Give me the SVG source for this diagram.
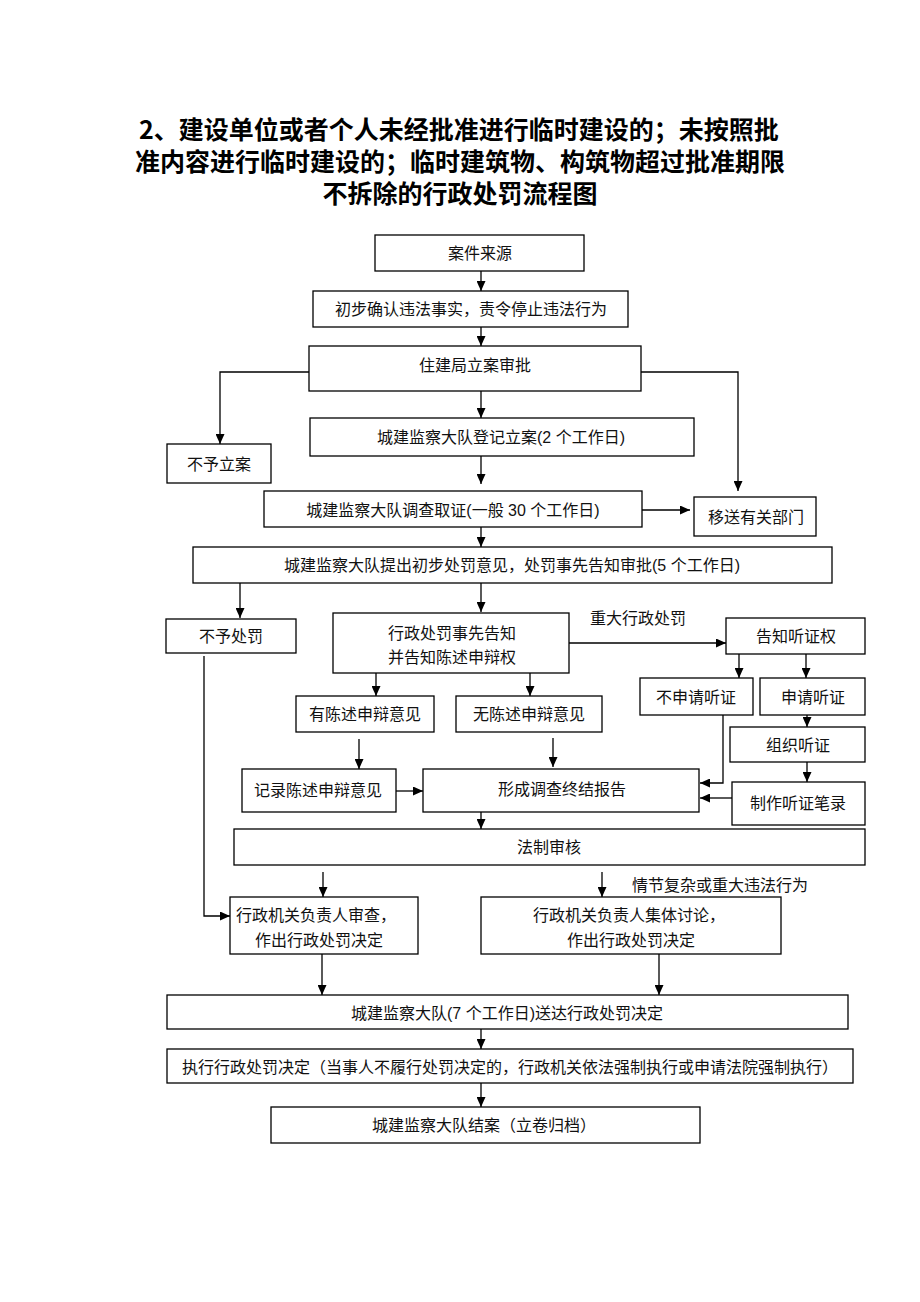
<svg xmlns="http://www.w3.org/2000/svg" width="920" height="1302" viewBox="0 0 920 1302">
<defs>
<marker id="ah" markerUnits="userSpaceOnUse" markerWidth="10" markerHeight="9" refX="10" refY="4.5" orient="auto">
<path d="M0,0 L10,4.5 L0,9 z" fill="#000"/>
</marker>
<style>
.b{fill:#fff;stroke:#000;stroke-width:1.3}
.t{font-family:"Liberation Sans","Noto Sans CJK SC",sans-serif;font-size:16px;fill:#111;text-anchor:middle}
.h{font-family:"Noto Sans CJK SC",sans-serif;font-size:25px;font-weight:bold;fill:#000;text-anchor:middle}
.c{fill:none;stroke:#000;stroke-width:1.3;marker-end:url(#ah)}
.l{fill:none;stroke:#000;stroke-width:1.3}
</style>
</defs>
<rect width="920" height="1302" fill="#fff"/>
<g id="title">
<text class="h" x="459" y="139">2、建设单位或者个人未经批准进行临时建设的；未按照批</text>
<text class="h" x="460" y="171">准内容进行临时建设的；临时建筑物、构筑物超过批准期限</text>
<text class="h" x="460" y="203">不拆除的行政处罚流程图</text>
</g>
<g id="connectors">
<line class="c" x1="481" y1="271" x2="481" y2="291"/>
<line class="c" x1="481" y1="327" x2="481" y2="346"/>
<polyline class="c" points="309,372 220,372 220,444"/>
<polyline class="c" points="641,372 738,372 738,491"/>
<line class="c" x1="481" y1="391" x2="481" y2="418"/>
<line class="c" x1="481" y1="456" x2="481" y2="484"/>
<line class="c" x1="642" y1="510" x2="690" y2="510"/>
<line class="c" x1="481" y1="527" x2="481" y2="547"/>
<line class="c" x1="240" y1="583" x2="240" y2="618"/>
<line class="c" x1="481" y1="583" x2="481" y2="612"/>
<line class="c" x1="569" y1="643" x2="726" y2="643"/>
<line class="c" x1="739" y1="654" x2="739" y2="678"/>
<line class="c" x1="806" y1="654" x2="806" y2="678"/>
<line class="c" x1="376" y1="673" x2="376" y2="696"/>
<line class="c" x1="530" y1="673" x2="530" y2="696"/>
<line class="c" x1="807" y1="715" x2="807" y2="727"/>
<line class="c" x1="807" y1="762" x2="807" y2="782"/>
<polyline class="c" points="723,715 723,783 700,783"/>
<line class="c" x1="732" y1="798" x2="700" y2="798"/>
<line class="c" x1="359" y1="739" x2="359" y2="769"/>
<line class="c" x1="553" y1="738" x2="553" y2="767"/>
<line class="c" x1="396" y1="791" x2="423" y2="791"/>
<line class="c" x1="481" y1="812" x2="481" y2="829"/>
<polyline class="c" points="204,656 204,916 230,916"/>
<line class="c" x1="323" y1="872" x2="323" y2="897"/>
<line class="c" x1="602" y1="872" x2="602" y2="897"/>
<line class="c" x1="322" y1="954" x2="322" y2="995"/>
<line class="c" x1="659" y1="954" x2="659" y2="995"/>
<line class="c" x1="481" y1="1029" x2="481" y2="1049"/>
<line class="c" x1="481" y1="1083" x2="481" y2="1107"/>
<text class="t" x="638" y="624">重大行政处罚</text>
<text class="t" x="720" y="891">情节复杂或重大违法行为</text>
</g>
<g id="n1"><rect class="b" x="375" y="235" width="209" height="36"/><text class="t" x="480" y="259">案件来源</text></g>
<g id="n2"><rect class="b" x="313" y="291" width="315" height="36"/><text class="t" x="471" y="315">初步确认违法事实，责令停止违法行为</text></g>
<g id="n3"><rect class="b" x="309" y="346" width="332" height="45"/><text class="t" x="475" y="371">住建局立案审批</text></g>
<g id="n4"><rect class="b" x="310" y="418" width="384" height="38"/><text class="t" x="501" y="443">城建监察大队登记立案(2 个工作日)</text></g>
<g id="n5"><rect class="b" x="167" y="444" width="104" height="39"/><text class="t" x="219" y="470">不予立案</text></g>
<g id="n6"><rect class="b" x="264" y="491" width="378" height="36"/><text class="t" x="453" y="516">城建监察大队调查取证(一般 30 个工作日)</text></g>
<g id="n7"><rect class="b" x="694" y="497" width="122" height="39"/><text class="t" x="756" y="523">移送有关部门</text></g>
<g id="n8"><rect class="b" x="193" y="547" width="639" height="36"/><text class="t" x="512" y="571">城建监察大队提出初步处罚意见，处罚事先告知审批(5 个工作日)</text></g>
<g id="n9"><rect class="b" x="166" y="619" width="130" height="34"/><text class="t" x="231" y="642">不予处罚</text></g>
<g id="n10"><rect class="b" x="333" y="613" width="236" height="60"/><text class="t" x="452" y="639">行政处罚事先告知</text><text class="t" x="452" y="663">并告知陈述申辩权</text></g>
<g id="n11"><rect class="b" x="726" y="618" width="139" height="36"/><text class="t" x="796" y="642">告知听证权</text></g>
<g id="n12"><rect class="b" x="640" y="678" width="113" height="37"/><text class="t" x="696" y="703">不申请听证</text></g>
<g id="n13"><rect class="b" x="760" y="678" width="105" height="37"/><text class="t" x="813" y="703">申请听证</text></g>
<g id="n14"><rect class="b" x="296" y="696" width="138" height="36"/><text class="t" x="365" y="720">有陈述申辩意见</text></g>
<g id="n15"><rect class="b" x="456" y="696" width="146" height="36"/><text class="t" x="529" y="720">无陈述申辩意见</text></g>
<g id="n16"><rect class="b" x="730" y="727" width="135" height="35"/><text class="t" x="798" y="751">组织听证</text></g>
<g id="n17"><rect class="b" x="242" y="769" width="154" height="43"/><text class="t" x="318" y="796">记录陈述申辩意见</text></g>
<g id="n18"><rect class="b" x="423" y="769" width="276" height="43"/><text class="t" x="562" y="795">形成调查终结报告</text></g>
<g id="n19"><rect class="b" x="732" y="782" width="133" height="43"/><text class="t" x="798" y="809">制作听证笔录</text></g>
<g id="n20"><rect class="b" x="234" y="829" width="631" height="36"/><text class="t" x="549" y="853">法制审核</text></g>
<g id="n21"><rect class="b" x="230" y="897" width="188" height="57"/><text class="t" x="316" y="921">行政机关负责人审查，</text><text class="t" x="319" y="946">作出行政处罚决定</text></g>
<g id="n22"><rect class="b" x="481" y="897" width="300" height="57"/><text class="t" x="629" y="921">行政机关负责人集体讨论，</text><text class="t" x="631" y="946">作出行政处罚决定</text></g>
<g id="n23"><rect class="b" x="167" y="995" width="681" height="34"/><text class="t" x="507" y="1019">城建监察大队(7 个工作日)送达行政处罚决定</text></g>
<g id="n24"><rect class="b" x="167" y="1049" width="686" height="34"/><text class="t" x="510" y="1073">执行行政处罚决定（当事人不履行处罚决定的，行政机关依法强制执行或申请法院强制执行）</text></g>
<g id="n25"><rect class="b" x="271" y="1107" width="429" height="36"/><text class="t" x="484" y="1131">城建监察大队结案（立卷归档）</text></g>
</svg>
